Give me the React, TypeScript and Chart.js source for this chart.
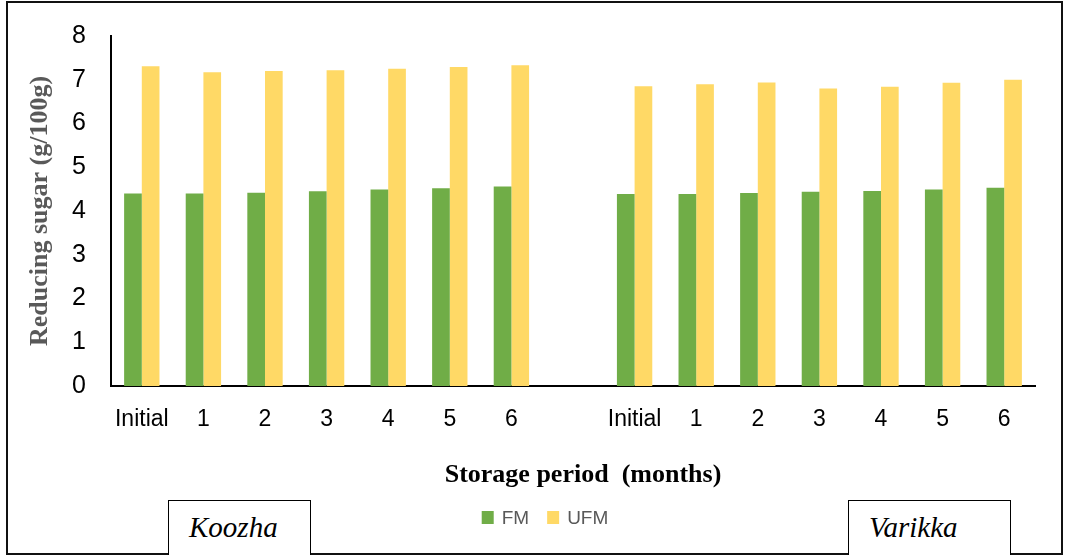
import { useEffect, useRef } from "react";
import { Chart, registerables } from "chart.js";

Chart.register(...registerables);

// Storage periods, repeated for each product group
const periods = ["Initial", "1", "2", "3", "4", "5", "6"];
const groups = ["Koozha", "Varikka"];

// Reducing sugar (g/100g)
const koozhaFM = [4.4, 4.4, 4.42, 4.45, 4.49, 4.52, 4.56];
const koozhaUFM = [7.31, 7.17, 7.2, 7.22, 7.25, 7.29, 7.33];
const varikkaFM = [4.39, 4.39, 4.41, 4.44, 4.46, 4.49, 4.53];
const varikkaUFM = [6.85, 6.9, 6.94, 6.8, 6.84, 6.93, 7.0];

const yTicks = [0, 1, 2, 3, 4, 5, 6, 7, 8];

const FM_COLOR = "#70AD47";
const UFM_COLOR = "#FFD966";
const SANS = "'Liberation Sans', Arial, sans-serif";
const SERIF = "'Liberation Serif', 'Times New Roman', serif";

// One empty slot separates the two product groups
const labels = [...periods, "", ...periods];
const fmData = [...koozhaFM, null, ...varikkaFM];
const ufmData = [...koozhaUFM, null, ...varikkaUFM];

const X_TITLE = "Storage period  (months)";

// Draws the x-axis caption and the series key below the plot
const extrasPlugin = {
  id: "extras",
  afterDraw(chart: any) {
    const ctx = chart.ctx as CanvasRenderingContext2D;
    ctx.save();
    ctx.font = `bold 26px ${SERIF}`;
    ctx.fillStyle = "#000";
    ctx.textAlign = "center";
    ctx.textBaseline = "middle";
    ctx.fillText(X_TITLE, 583, 475);

    // key
    ctx.font = `19px ${SANS}`;
    ctx.textAlign = "left";
    ctx.textBaseline = "middle";
    const items = chart.data.datasets.map((d: any) => ({
      text: d.label as string,
      color: d.backgroundColor as string,
    }));
    const box = 12;
    const gap = 8;
    const spacing = 18;
    let total = 0;
    items.forEach((it: any, i: number) => {
      total += box + gap + ctx.measureText(it.text).width;
      if (i < items.length - 1) total += spacing;
    });
    let x = 545 - total / 2;
    const cy = 517.5;
    items.forEach((it: any) => {
      ctx.fillStyle = it.color;
      ctx.fillRect(x, cy - 6.5, box, 13);
      x += box + gap;
      ctx.fillStyle = "#595959";
      ctx.fillText(it.text, x, cy + 1);
      x += ctx.measureText(it.text).width + spacing;
    });
    ctx.restore();
  },
};

function ReducingSugarChart() {
  const canvasRef = useRef<HTMLCanvasElement | null>(null);

  useEffect(() => {
    if (!canvasRef.current) return;
    const chart = new Chart(canvasRef.current, {
      type: "bar",
      data: {
        labels,
        datasets: [
          {
            label: "FM",
            data: fmData,
            backgroundColor: FM_COLOR,
            categoryPercentage: 0.574,
            barPercentage: 1,
          },
          {
            label: "UFM",
            data: ufmData,
            backgroundColor: UFM_COLOR,
            categoryPercentage: 0.574,
            barPercentage: 1,
          },
        ],
      },
      options: {
        responsive: false,
        animation: false,
        layout: { padding: { left: 0, right: 32, top: 36, bottom: 0 } },
        plugins: {
          legend: { display: false },
          tooltip: { enabled: false },
          title: { display: false },
        },
        scales: {
          x: {
            grid: { display: false, drawTicks: false },
            border: { display: true, color: "#000", width: 2 },
            ticks: {
              font: { family: SANS, size: 23 },
              color: "#000",
              padding: 20,
              maxRotation: 0,
              autoSkip: false,
            },
            afterFit(scale: any) {
              scale.height = 170;
            },
          },
          y: {
            min: 0,
            max: yTicks[yTicks.length - 1],
            grid: { display: false, drawTicks: false },
            border: { display: true, color: "#000", width: 2 },
            afterBuildTicks(scale: any) {
              scale.ticks = yTicks.map((v) => ({ value: v }));
            },
            ticks: {
              font: { family: SANS, size: 25 },
              color: "#000",
              padding: 25,
            },
            title: {
              display: true,
              text: "Reducing sugar (g/100g)",
              color: "#595959",
              font: { family: SERIF, size: 26, weight: "bold" },
              padding: { top: 25, bottom: 0 },
            },
            afterFit(scale: any) {
              scale.width = 111;
              // the plot's top edge comes from the layout padding alone
              scale.paddingTop = 0;
              scale.paddingBottom = 0;
            },
          },
        },
      },
      plugins: [extrasPlugin],
    });
    return () => chart.destroy();
  }, []);

  const boxStyle = (left: number, width: number): React.CSSProperties => ({
    position: "absolute",
    left,
    top: 500,
    width,
    height: 55,
    boxSizing: "border-box",
    border: "1px solid #000",
    borderBottom: "none",
    background: "#fff",
    fontFamily: SERIF,
    fontStyle: "italic",
    fontSize: 29,
    lineHeight: "53px",
    paddingLeft: 20,
    color: "#000",
  });

  return (
    <div
      style={{
        position: "absolute",
        left: 0,
        top: 0,
        width: 1067,
        height: 556,
        background: "#fff",
        overflow: "hidden",
      }}
    >
      <canvas
        ref={canvasRef}
        width={1067}
        height={556}
        style={{ position: "absolute", left: 0, top: 0 }}
      />
      <div
        style={{
          position: "absolute",
          left: 6,
          top: 1,
          width: 1057,
          height: 554,
          boxSizing: "border-box",
          border: "2px solid #111",
          pointerEvents: "none",
        }}
      />
      <div style={boxStyle(168, 143)}>{groups[0]}</div>
      <div style={boxStyle(848, 163)}>{groups[1]}</div>
    </div>
  );
}

export default function App() {
  return <ReducingSugarChart />;
}
